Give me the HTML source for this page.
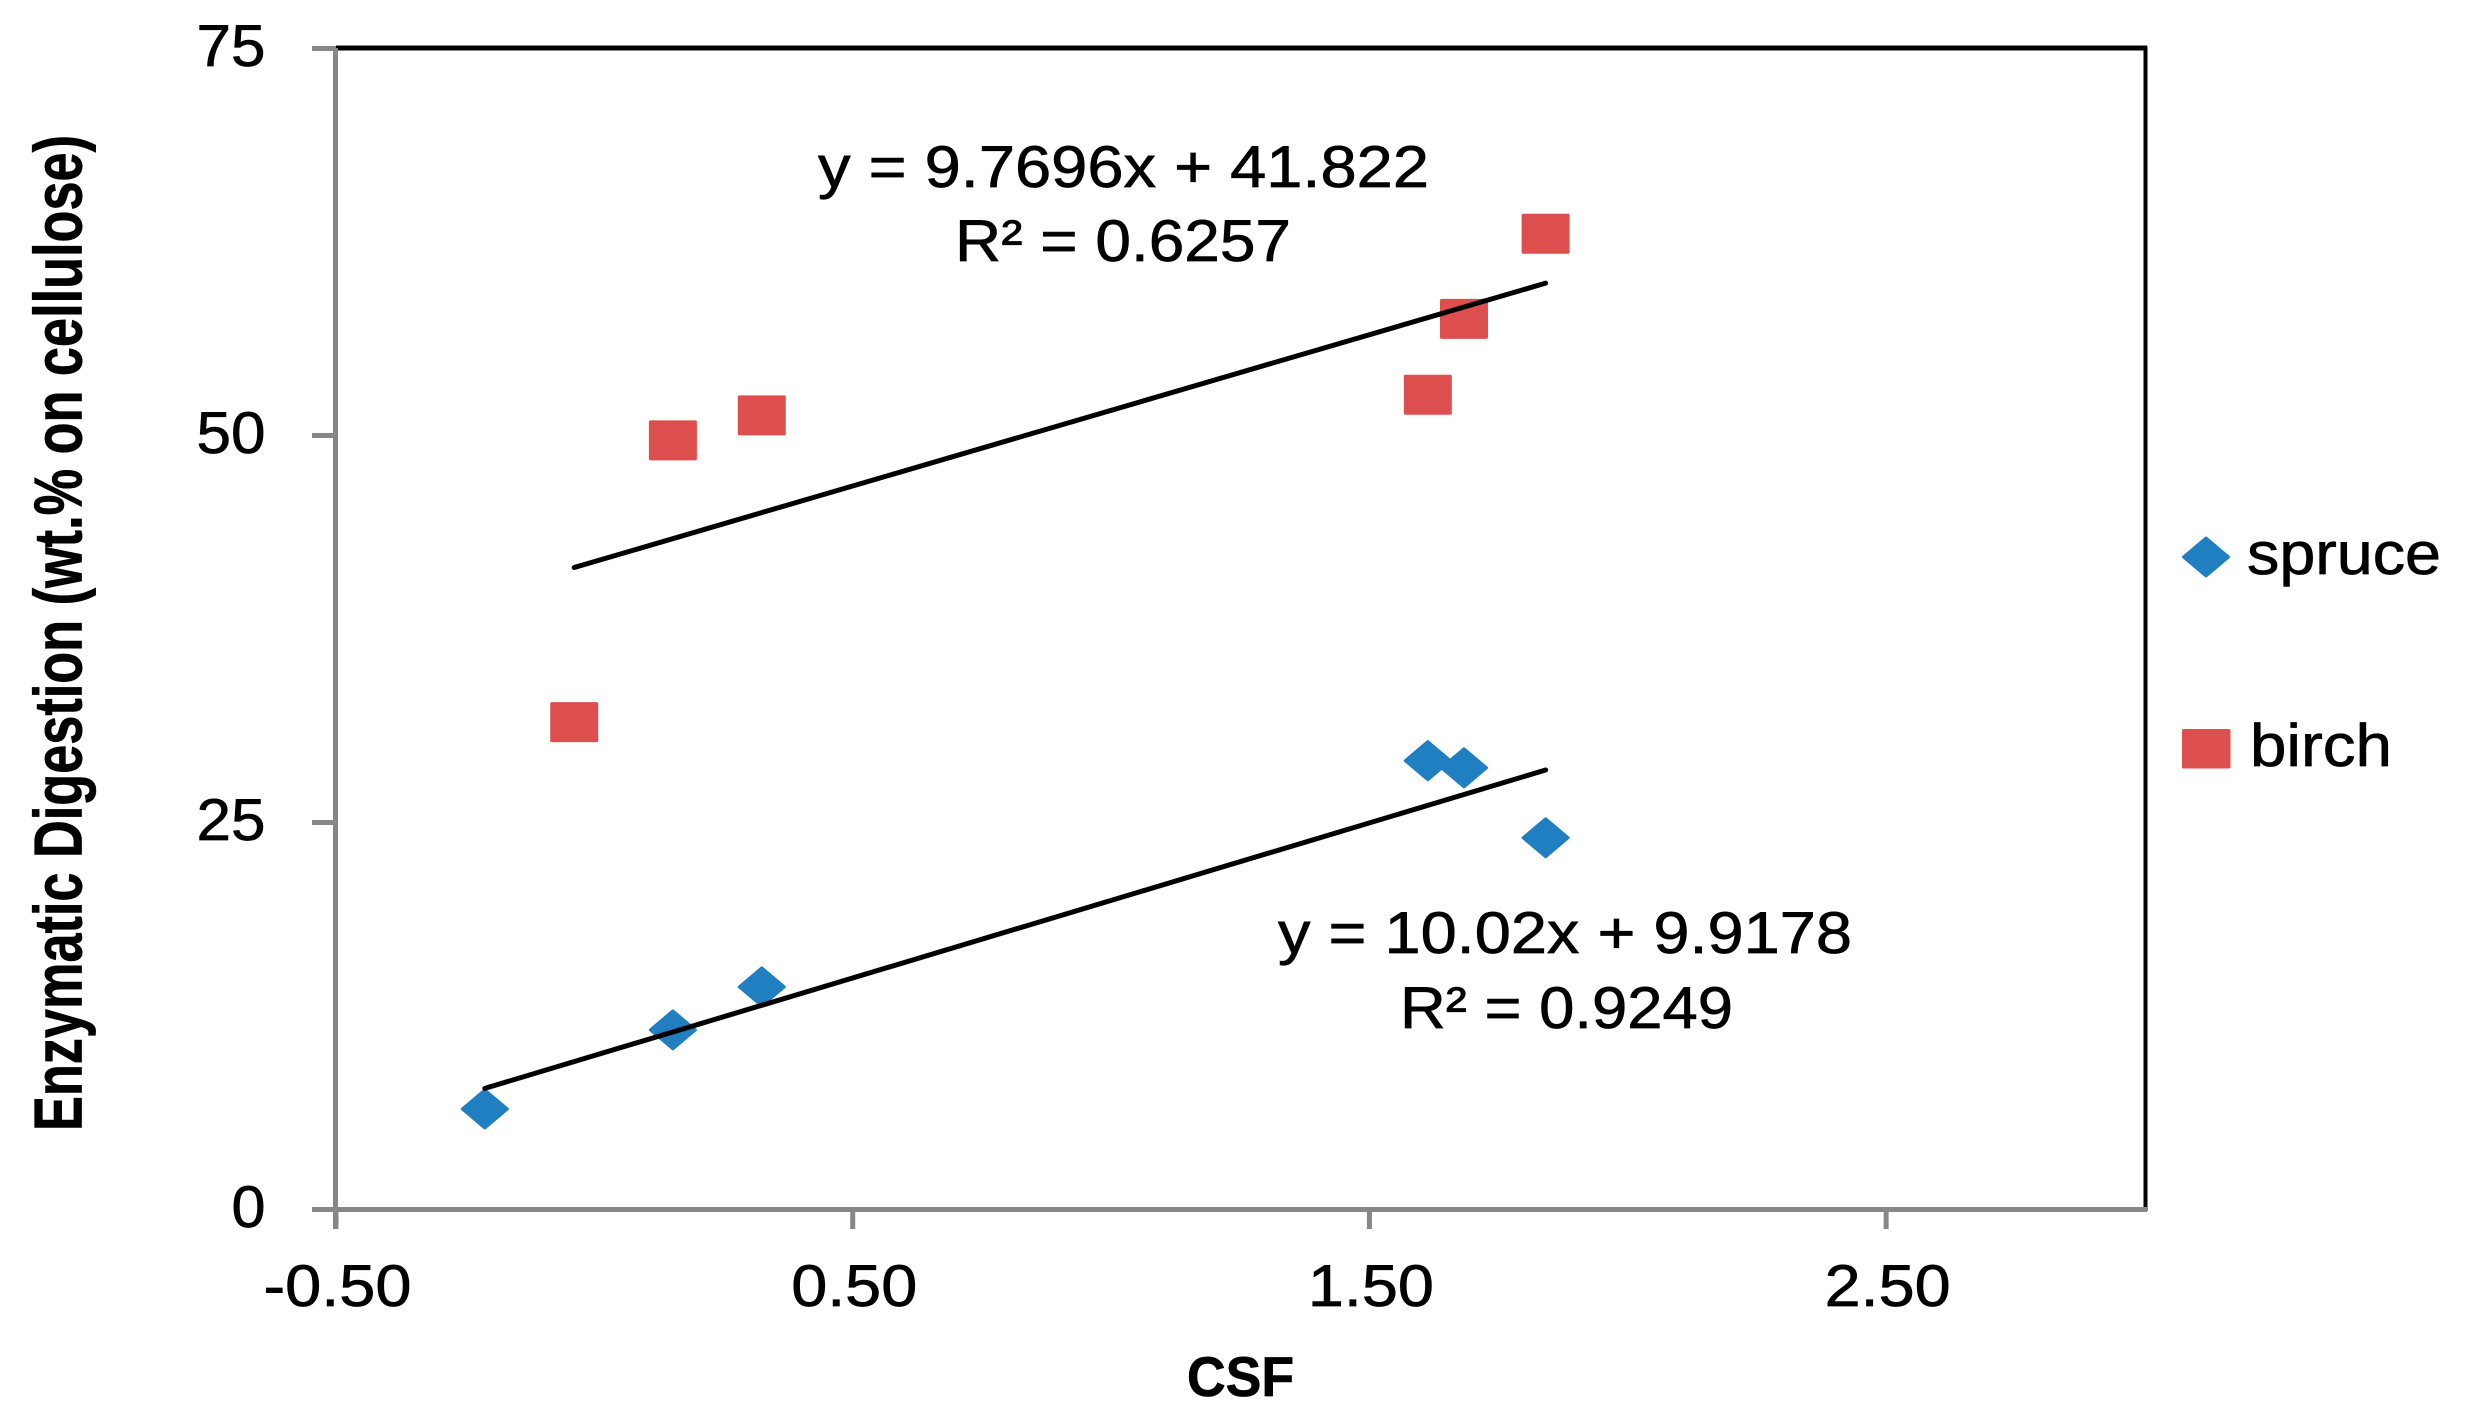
<!DOCTYPE html>
<html lang="en">
<head>
<meta charset="utf-8">
<title>Enzymatic Digestion vs CSF</title>
<style>
html,body{margin:0;padding:0;background:#fff;width:2466px;height:1422px;overflow:hidden}
svg{display:block;font-family:"Liberation Sans",sans-serif;text-rendering:geometricPrecision}
text{fill:#000;stroke:#000;stroke-width:0.7px}
</style>
</head>
<body>
<svg id="chart" xmlns="http://www.w3.org/2000/svg" width="2466" height="1422" viewBox="0 0 2466 1422">
  <rect x="0" y="0" width="2466" height="1422" fill="#ffffff"/>
  <g id="frame">
    <line x1="336" y1="48" x2="2147" y2="48" stroke="#000" stroke-width="5"/>
    <line x1="2145.5" y1="46" x2="2145.5" y2="1211" stroke="#000" stroke-width="4"/>
    <line x1="335.5" y1="48" x2="335.5" y2="1229" stroke="#878787" stroke-width="5"/>
    <line x1="312" y1="1209.5" x2="2147" y2="1209.5" stroke="#878787" stroke-width="5"/>
  </g>
  <g id="ticks"></g>
  <g id="marks"></g>
  <g id="trends"></g>

  <text transform="translate(81.5,1131) rotate(-90)" font-size="68" font-weight="bold" textLength="996" lengthAdjust="spacingAndGlyphs">Enzymatic Digestion (wt.% on cellulose)</text>
  <text x="1187" y="1396" font-size="56" font-weight="bold" textLength="107" lengthAdjust="spacingAndGlyphs">CSF</text>

  <text x="818" y="187" font-size="59" textLength="611" lengthAdjust="spacingAndGlyphs">y = 9.7696x + 41.822</text>
  <text x="955" y="261" font-size="59" textLength="336" lengthAdjust="spacingAndGlyphs">R² = 0.6257</text>
  <text x="1278" y="953" font-size="59" textLength="574" lengthAdjust="spacingAndGlyphs">y = 10.02x + 9.9178</text>
  <text x="1400" y="1028" font-size="59" textLength="333" lengthAdjust="spacingAndGlyphs">R² = 0.9249</text>

  <g>
    <g>
      <polygon points="2183.5,557 2206,538 2228.5,557 2206,576" fill="#1f7fc1" stroke="#1f7fc1" stroke-width="3" stroke-linejoin="round"/>
      <text x="2247" y="574" font-size="60" textLength="194" lengthAdjust="spacingAndGlyphs">spruce</text>
    </g>
    <g>
      <rect x="2182" y="729" width="48.5" height="39.5" rx="1.5" fill="#dd4f4e"/>
      <text x="2250" y="766" font-size="60" textLength="142" lengthAdjust="spacingAndGlyphs">birch</text>
    </g>
  </g>
</svg>
<script>
const spruceX = [-0.212, 0.152, 0.324, 1.613, 1.683, 1.841];
const spruceY = [6.46, 11.57, 14.35, 28.96, 28.5, 23.98];
const birchX = [-0.039, 0.152, 0.324, 1.613, 1.683, 1.841];
const birchY = [31.45, 49.65, 51.27, 52.6, 57.5, 63.0];
const spruceTrendX = [-0.212, 1.841];
const spruceTrendY = [7.79, 28.36];
const birchTrendX = [-0.039, 1.841];
const birchTrendY = [41.44, 59.81];
const xTickValues = [-0.5, 0.5, 1.5, 2.5];
const xTickLabels = ['-0.50', '0.50', '1.50', '2.50'];
const yTickValues = [0, 25, 50, 75];
const yTickLabels = ['0', '25', '50', '75'];

const NS = 'http://www.w3.org/2000/svg';
const xMin = -0.5, xMax = 3, yMin = 0, yMax = 75;
const plotLeft = 336, plotRight = 2144.5, plotTop = 48, plotBottom = 1209;
function xScale(v) { return plotLeft + (v - xMin) / (xMax - xMin) * (plotRight - plotLeft); }
function yScale(v) { return plotBottom - (v - yMin) / (yMax - yMin) * (plotBottom - plotTop); }
function labelWidth(s) {
  let w = 0;
  for (const c of s) { w += /[0-9]/.test(c) ? 35 : 22; }
  return w - 1;
}
function make(tag, attrs) {
  const el = document.createElementNS(NS, tag);
  for (const k in attrs) { el.setAttribute(k, attrs[k]); }
  return el;
}

const ticksGroup = document.getElementById('ticks');
xTickValues.forEach(function (v, i) {
  const tick = make('line', { x1: xScale(v), x2: xScale(v), y1: plotBottom, y2: 1229, stroke: '#878787', 'stroke-width': 5 });
  
  
  ticksGroup.appendChild(tick);
  const label = make('text', { x: xScale(v) + 1.5, y: 1306, 'font-size': 59, 'text-anchor': 'middle', textLength: labelWidth(xTickLabels[i]), lengthAdjust: 'spacingAndGlyphs' });
  label.textContent = xTickLabels[i];
  
  
  ticksGroup.appendChild(label);
});
yTickValues.forEach(function (v, i) {
  const tick = make('line', { x1: 312, x2: plotLeft, y1: yScale(v) + 0.5, y2: yScale(v) + 0.5, stroke: '#878787', 'stroke-width': 5 });
  
  
  ticksGroup.appendChild(tick);
  const label = make('text', { x: 265.5, y: yScale(v) + 18, 'font-size': 59, 'text-anchor': 'end', textLength: labelWidth(yTickLabels[i]), lengthAdjust: 'spacingAndGlyphs' });
  label.textContent = yTickLabels[i];
  
  
  ticksGroup.appendChild(label);
});

const marksGroup = document.getElementById('marks');
const markW = 48, markH = 41;
const diamondW = 45, diamondH = 38;
spruceX.forEach(function (v, i) {
  const cx = xScale(v), cy = yScale(spruceY[i]);
  const pts = [[cx - diamondW / 2, cy], [cx, cy - diamondH / 2], [cx + diamondW / 2, cy], [cx, cy + diamondH / 2]];
  const el = make('polygon', { points: pts.map(function (p) { return p.join(','); }).join(' '), fill: '#1f7fc1', stroke: '#1f7fc1', 'stroke-width': 3, 'stroke-linejoin': 'round' });
  
  
  marksGroup.appendChild(el);
});
birchX.forEach(function (v, i) {
  const cx = xScale(v), cy = yScale(birchY[i]);
  const el = make('rect', { x: cx - markW / 2, y: cy - markH / 2 + 0.5, width: markW, height: markH - 1, rx: 1.5, fill: '#dd4f4e' });
  
  
  marksGroup.appendChild(el);
});

const trendsGroup = document.getElementById('trends');
const spruceTrend = make('line', { x1: xScale(spruceTrendX[0]), y1: yScale(spruceTrendY[0]), x2: xScale(spruceTrendX[1]), y2: yScale(spruceTrendY[1]), stroke: '#000', 'stroke-width': 5, 'stroke-linecap': 'round' });


trendsGroup.appendChild(spruceTrend);
const birchTrend = make('line', { x1: xScale(birchTrendX[0]), y1: yScale(birchTrendY[0]), x2: xScale(birchTrendX[1]), y2: yScale(birchTrendY[1]), stroke: '#000', 'stroke-width': 5, 'stroke-linecap': 'round' });


trendsGroup.appendChild(birchTrend);
</script>
</body>
</html>
